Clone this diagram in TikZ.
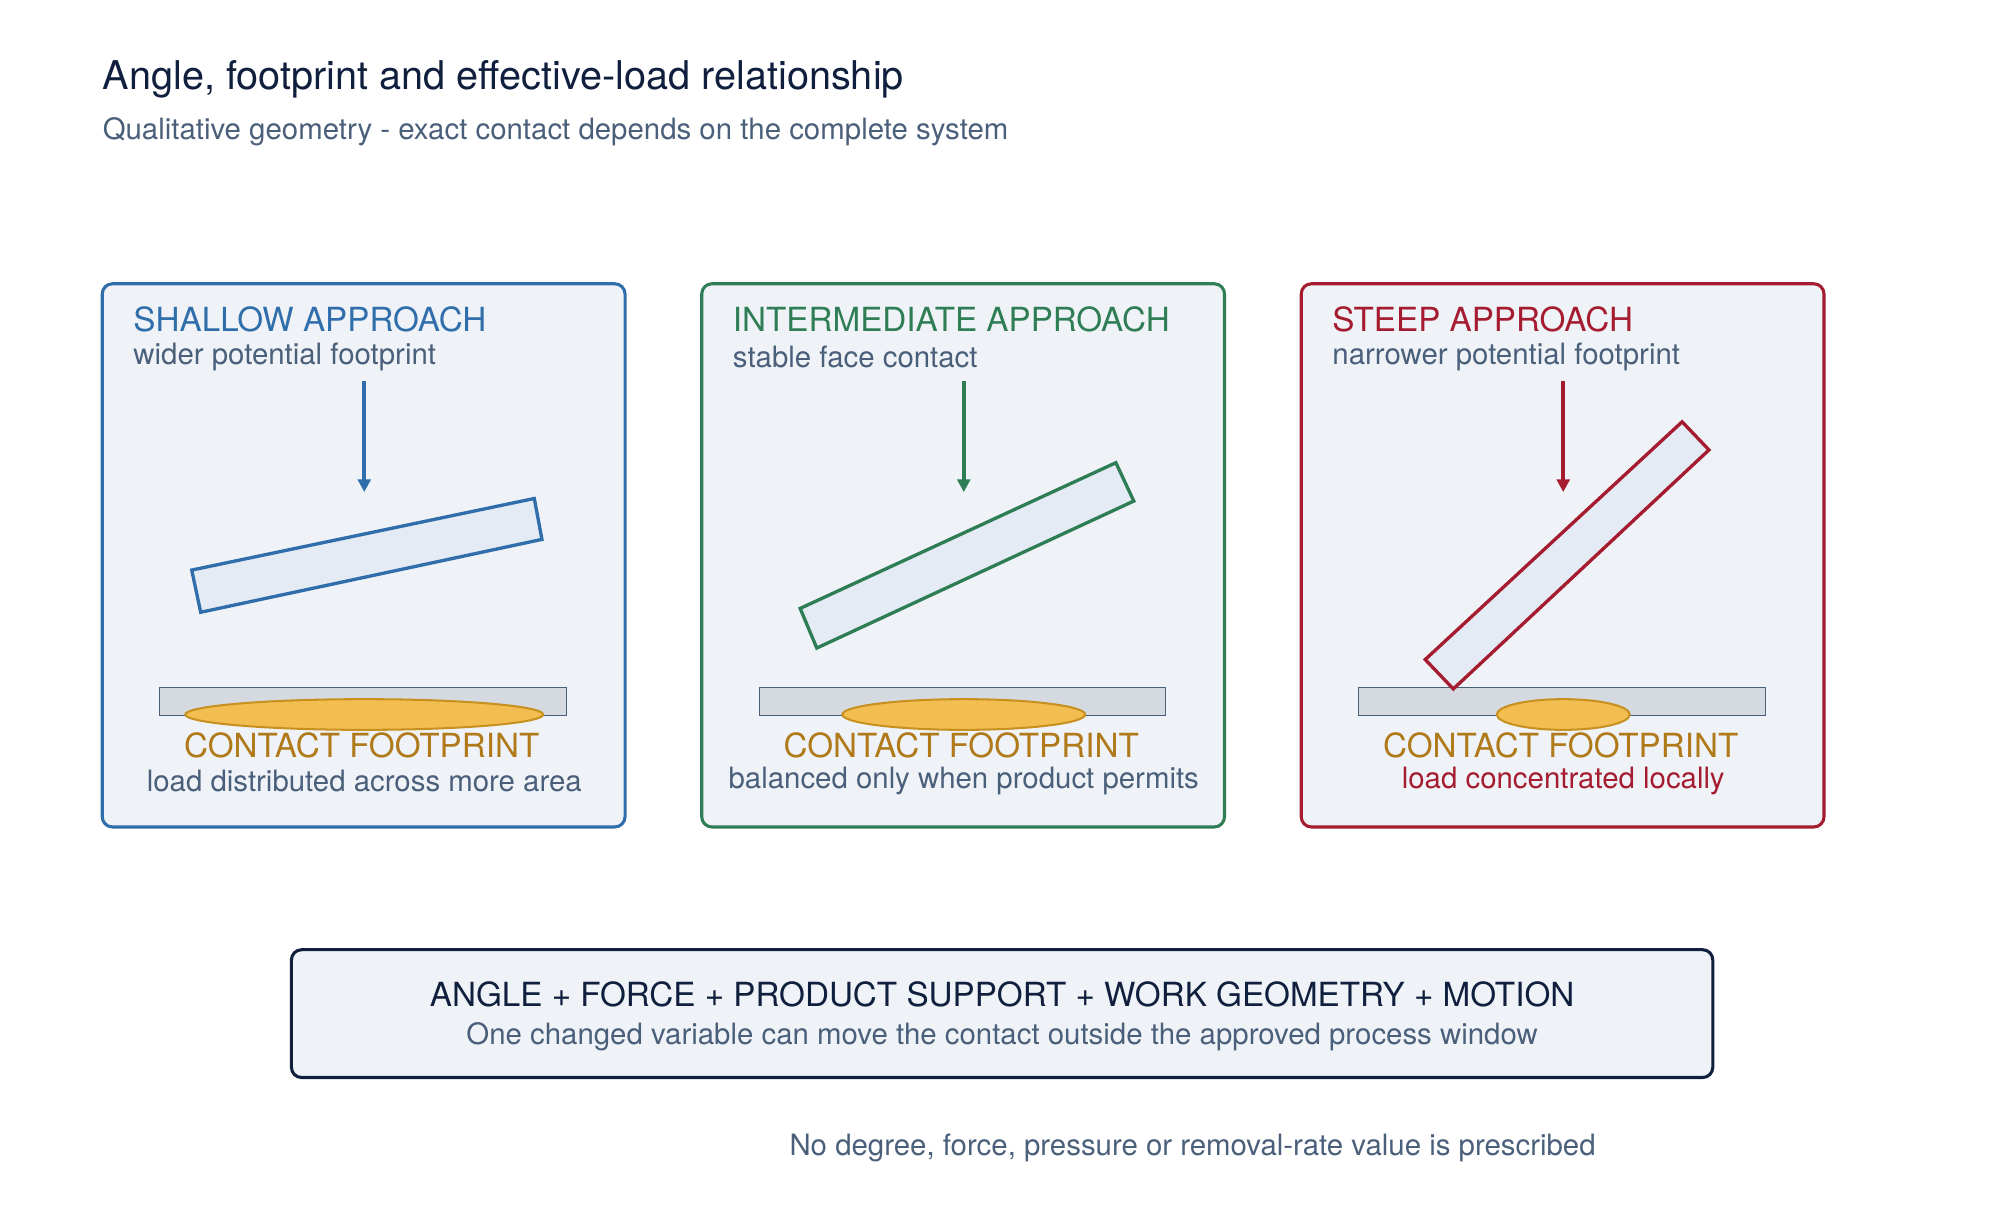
\documentclass[tikz,border=0pt]{standalone}
\usepackage{fontspec}
\setmainfont{TeX Gyre Heros}
\usetikzlibrary{arrows.meta,positioning}
\definecolor{navy}{HTML}{0F1F3D}
\definecolor{slate}{HTML}{4A5F7A}
\definecolor{cblue}{HTML}{2F6EAA}
\definecolor{cgreen}{HTML}{2E7D55}
\definecolor{cred}{HTML}{A51C30}
\definecolor{panelfill}{HTML}{EFF3F7}
\definecolor{bladefill}{HTML}{E4EBF4}
\definecolor{platefill}{HTML}{D5DAE0}
\definecolor{spotfill}{HTML}{F2BE52}
\definecolor{spotline}{HTML}{C8901E}
\definecolor{spottext}{HTML}{B07A1A}
\tikzset{
  panel/.style={draw=#1,line width=1.2pt,fill=panelfill,rounded corners=4pt},
  blade/.style={draw=#1,line width=1.3pt,fill=bladefill},
  plate/.style={draw=slate,line width=0.5pt,fill=platefill},
  spot/.style={draw=spotline,line width=0.8pt,fill=spotfill},
  push/.style={line width=1.6pt,draw=#1,-{Triangle[length=5pt,width=5pt]}},
  txt/.style={inner sep=0pt,font=\fontsize{11.5}{13}\selectfont,text=slate}
}
\begin{document}
\begin{tikzpicture}[x=0.5pt,y=-0.5pt]
\useasboundingbox (0,0) rectangle (1560,962);
\node[anchor=west,inner sep=0pt,font=\fontsize{15.5}{18}\selectfont,text=navy] (title) at (80,62) {Angle, footprint and effective-load relationship};
\node[anchor=west,txt] (subtitle) at (80,103) {Qualitative geometry - exact contact depends on the complete system};

% three panels
\foreach \i/\cx/\col/\rx/\ttl/\sub/\note/\notecol in {
  1/285/cblue/140/SHALLOW APPROACH/wider potential footprint/load distributed across more area/slate,
  2/754/cgreen/95/INTERMEDIATE APPROACH/stable face contact/balanced only when product permits/slate,
  3/1223/cred/52/STEEP APPROACH/narrower potential footprint/load concentrated locally/cred}{
  \draw[panel=\col] (\cx-205,222) rectangle (\cx+204,647);
  \node[anchor=west,txt,text=\col,font=\fontsize{13}{15}\selectfont] (head\i) at (\cx-181,250) {\ttl};
  \node[anchor=west,txt] (sub\i) at (\cx-181,279) {\sub};
  \coordinate (top\i) at (\cx,298);
  \coordinate (tip\i) at (\cx,385);
  \draw[push=\col] (top\i) -- (tip\i);
  \draw[plate] (\cx-160,538) rectangle (\cx+158,560);
  \draw[spot] (\cx,559) ellipse ({\rx*0.5pt} and 6pt);
  \node[txt,text=spottext,font=\fontsize{13}{15}\selectfont] (foot\i) at (\cx-2,583) {CONTACT FOOTPRINT};
  \node[txt,text=\notecol] (note\i) at (\cx,611) {\note};
}

% tools at three angles
\draw[blade=cblue] (150,446) -- (418,390) -- (424,422) -- (157,479) -- cycle;
\draw[blade=cgreen] (626,476) -- (873,362) -- (887,392) -- (639,507) -- cycle;
\draw[blade=cred] (1115,516) -- (1316,330) -- (1337,352) -- (1137,539) -- cycle;

% summary
\draw[panel=navy,fill=panelfill] (228,743) rectangle (1340,843);
\node[txt,text=navy,font=\fontsize{13}{15}\selectfont] (sum) at (784,778) {ANGLE + FORCE + PRODUCT SUPPORT + WORK GEOMETRY + MOTION};
\node[txt] (sumsub) at (784,811) {One changed variable can move the contact outside the approved process window};
\node[txt] (foot) at (933,898) {No degree, force, pressure or removal-rate value is prescribed};
\end{tikzpicture}
\end{document}
